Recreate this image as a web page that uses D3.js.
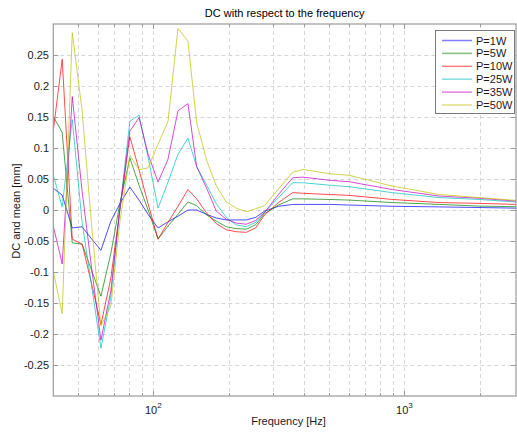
<!DOCTYPE html>
<html><head><meta charset="utf-8">
<script src="https://cdn.jsdelivr.net/npm/d3@7"></script>
<style>body{margin:0;background:#fff;} svg{display:block;font-family:"Liberation Sans",Arial,sans-serif;}</style>
</head><body><svg id="c" width="517" height="432"></svg>
<script>
const freqs = [40, 43.4, 47.6, 52.1, 56.7, 61.9, 67.8, 73.6, 80.7, 87.8, 95.4, 104.5, 114.5, 125.5, 137.5, 148.9, 163.2, 178.4, 195.5, 213.8, 234.7, 255.5, 277.3, 315.3, 359.4, 393.8, 503, 603, 894, 1376, 1983, 2783];
const seriesNames = ["P=1W", "P=5W", "P=10W", "P=25W", "P=35W", "P=50W"];
const p1W  = [0.035, 0.024, -0.029, -0.027, -0.046, -0.065, -0.018, 0.01, 0.037, 0.016, -0.007, -0.029, -0.019, -0.01, 0.0, 0.0, -0.007, -0.013, -0.016, -0.016, -0.016, -0.012, -0.002, 0.006, 0.009, 0.009, 0.009, 0.008, 0.006, 0.005, 0.004, 0.003];
const p5W  = [0.151, 0.125, -0.053, -0.055, -0.096, -0.139, -0.07, 0.01, 0.084, 0.04, 0.0, -0.047, -0.026, -0.007, 0.013, 0.007, -0.008, -0.018, -0.027, -0.030, -0.031, -0.024, -0.006, 0.008, 0.018, 0.018, 0.017, 0.016, 0.012, 0.009, 0.0063, 0.0053];
const p10W = [0.128, 0.243, -0.047, -0.055, -0.117, -0.185, -0.11, 0.0, 0.118, 0.065, 0.01, -0.047, -0.02, 0.006, 0.033, 0.018, -0.005, -0.022, -0.032, -0.035, -0.036, -0.029, -0.008, 0.012, 0.028, 0.027, 0.025, 0.0236, 0.017, 0.012, 0.0107, 0.009];
const p25W = [0.056, 0.005, 0.146, -0.02, -0.12, -0.223, -0.14, 0.0, 0.143, 0.153, 0.085, 0.003, 0.045, 0.09, 0.116, 0.07, 0.04, 0.01, -0.012, -0.024, -0.027, -0.02, -0.004, 0.02, 0.044, 0.044, 0.040, 0.0376, 0.028, 0.020, 0.017, 0.0128];
const p35W = [-0.026, -0.087, 0.183, 0.03, -0.09, -0.21, -0.13, 0.0, 0.127, 0.149, 0.09, 0.045, 0.082, 0.16, 0.1715, 0.07, 0.035, -0.002, -0.015, -0.021, -0.023, -0.017, -0.004, 0.025, 0.052, 0.053, 0.048, 0.0456, 0.033, 0.0225, 0.019, 0.0144];
const p50W = [-0.099, -0.167, 0.286, 0.16, -0.02, -0.187, -0.155, -0.02, 0.088, 0.065, 0.068, 0.106, 0.143, 0.293, 0.272, 0.141, 0.08, 0.0386, 0.013, 0.003, -0.003, 0.002, 0.007, 0.034, 0.061, 0.0655, 0.0585, 0.056, 0.0386, 0.025, 0.02, 0.0155];
const seriesValues = [p1W, p5W, p10W, p25W, p35W, p50W];
const colors = ["#0000ff", "#008000", "#ff0000", "#00bfbf", "#bf00bf", "#bfbf00"];
const yTicks = [-0.25, -0.2, -0.15, -0.1, -0.05, 0, 0.05, 0.1, 0.15, 0.2, 0.25];
const yTickLabels = ["-0.25", "-0.2", "-0.15", "-0.1", "-0.05", "0", "0.05", "0.1", "0.15", "0.2", "0.25"];
const xMajorTicks = [100, 1000];
const xMajorExp = ["2", "3"];
const xMinorTicks = [50, 60, 70, 80, 90, 200, 300, 400, 500, 600, 700, 800, 900, 2000];

const svg = d3.select("#c");
const L = 53.3, R = 516, T = 24, B = 396;
const x = d3.scaleLog().domain([40, 2783]).range([L, R]);
const y = d3.scaleLinear().domain([-0.3, 0.3]).range([B, T]);

svg.append("rect").attr("width", 517).attr("height", 432).attr("fill", "#fff");

// grid
const grid = svg.append("g").attr("stroke", "#d6d6d6").attr("stroke-dasharray", "4,3").attr("stroke-width", 1);
yTicks.forEach(v => grid.append("line").attr("x1", L).attr("x2", R).attr("y1", Math.round(y(v)) + 0.5).attr("y2", Math.round(y(v)) + 0.5));
xMajorTicks.concat(xMinorTicks).forEach(v => grid.append("line").attr("y1", T).attr("y2", B).attr("x1", Math.round(x(v)) + 0.5).attr("x2", Math.round(x(v)) + 0.5));

// lines
const clip = svg.append("clipPath").attr("id", "clp").append("rect").attr("x", L).attr("y", T).attr("width", R - L).attr("height", B - T);
const line = d3.line().x((d, i) => x(freqs[i])).y(d => y(d));
const lg = svg.append("g").attr("clip-path", "url(#clp)");
seriesValues.forEach((vals, k) => {
  lg.append("path").attr("d", line(vals)).attr("fill", "none").attr("stroke", colors[k]).attr("stroke-width", 1).attr("stroke-opacity", 0.7);
});

// axes box and ticks
const ax = svg.append("g").attr("stroke", "#9a9a9a").attr("fill", "none");
ax.append("rect").attr("x", L).attr("y", T).attr("width", R - L).attr("height", B - T).attr("stroke-width", 1.2);
yTicks.forEach(v => {
  const yy = Math.round(y(v)) + 0.5;
  ax.append("line").attr("x1", L).attr("x2", L + 5).attr("y1", yy).attr("y2", yy);
  ax.append("line").attr("x1", R - 5).attr("x2", R).attr("y1", yy).attr("y2", yy);
});
xMajorTicks.forEach(v => {
  const xx = Math.round(x(v)) + 0.5;
  ax.append("line").attr("x1", xx).attr("x2", xx).attr("y1", B).attr("y2", B - 5);
  ax.append("line").attr("x1", xx).attr("x2", xx).attr("y1", T).attr("y2", T + 5);
});
xMinorTicks.forEach(v => {
  const xx = Math.round(x(v)) + 0.5;
  ax.append("line").attr("x1", xx).attr("x2", xx).attr("y1", B).attr("y2", B - 3);
  ax.append("line").attr("x1", xx).attr("x2", xx).attr("y1", T).attr("y2", T + 3);
});

// tick labels
const tl = svg.append("g").attr("fill", "#1a1a1a").attr("font-size", 11);
yTicks.forEach((v, i) => tl.append("text").attr("x", 49).attr("y", y(v) + 4).attr("text-anchor", "end").text(yTickLabels[i]));
xMajorTicks.forEach((v, i) => {
  const t = tl.append("text").attr("x", x(v)).attr("y", 413.5).attr("text-anchor", "middle");
  t.append("tspan").text("10");
  t.append("tspan").attr("font-size", 8).attr("dy", -6).text(xMajorExp[i]);
});

// titles
svg.append("text").attr("x", (L + R) / 2).attr("y", 16.5).attr("text-anchor", "middle").attr("font-size", 11).attr("fill", "#000").text("DC with respect to the frequency");
svg.append("text").attr("x", 288.5).attr("y", 425).attr("text-anchor", "middle").attr("font-size", 11).attr("fill", "#1a1a1a").text("Frequency [Hz]");
svg.append("text").attr("transform", "translate(20,211) rotate(-90)").attr("text-anchor", "middle").attr("font-size", 11).attr("fill", "#1a1a1a").text("DC and mean [mm]");

// legend
const leg = svg.append("g");
leg.append("rect").attr("x", 435.5).attr("y", 30.5).attr("width", 79).attr("height", 83).attr("fill", "#fff").attr("stroke", "#7a7a7a");
seriesNames.forEach((n, i) => {
  const yy = 40.5 + i * 12.9;
  leg.append("line").attr("x1", 442).attr("x2", 472).attr("y1", yy).attr("y2", yy).attr("stroke", colors[i]).attr("stroke-opacity", 0.5).attr("stroke-width", 1.5);
  leg.append("text").attr("x", 476).attr("y", yy + 4).attr("font-size", 11).attr("fill", "#1a1a1a").text(n);
});
</script></body></html>
